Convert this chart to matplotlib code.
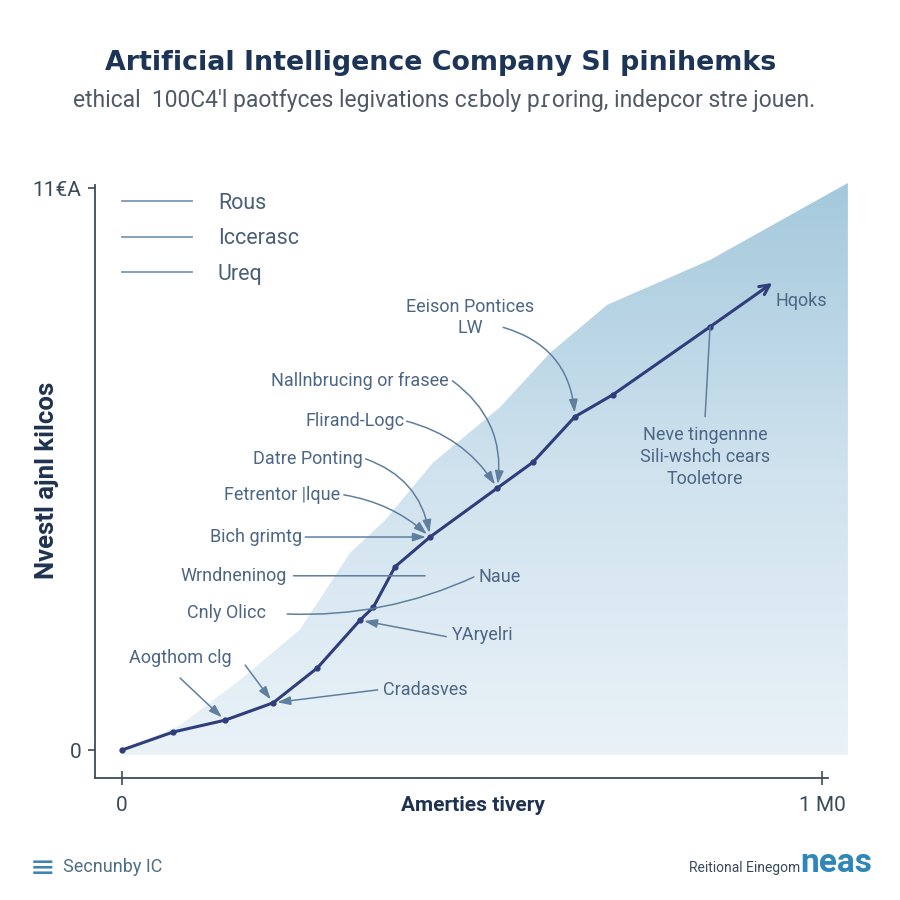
import matplotlib.pyplot as plt
import numpy as np
from matplotlib.patches import Polygon
from matplotlib.lines import Line2D
from matplotlib.colors import LinearSegmentedColormap

plt.rcParams['font.family'] = ['Roboto', 'DejaVu Sans']

# main growth line (x: share of span, y: share of top tick)
line_x = [0, 7.3, 14.7, 21.6, 27.9, 34.0, 35.9, 39.0, 44.0, 53.6, 58.7, 64.7, 70.1, 84.0, 92.9]
line_y = [0, 3.2, 5.3, 8.4, 14.6, 23.1, 25.4, 32.6, 37.9, 46.6, 51.2, 59.3, 63.2, 75.3, 83.1]

# upper edge of the shaded band behind the line
band_x = [0, 8.3, 16.9, 25.4, 32.6, 37.6, 44.4, 54.0, 61.1, 69.3, 84.0, 103.7]
band_y = [0, 4.4, 12.5, 21.4, 35.1, 40.9, 51.1, 61.0, 70.6, 79.2, 87.2, 100.9]
band_floor = -0.9

x_ticks = [0, 100]
x_tick_labels = ["0", "1 M0"]
y_ticks = [0, 100]
y_tick_labels = ["0", "11€A"]

legend_labels = ["Rous", "Iccerasc", "Ureq"]

# callouts with an arrow to a point of the line
callout_labels = ["Eeison Pontices\nLW", "Nallnbrucing or frasee", "Flirand-Logc", "Datre Ponting",
                  "Fetrentor |lque", "Bich grimtg", "YAryelri", "Cradasves", "", ""]
callout_points = [11, 9, 9, 8, 8, 8, 5, 3, 2, 3]

# layout of the callouts: text position, arrow start (bbox fraction), curvature
callout_pos = [(49.7, 77.0), (34.0, 65.7), (33.3, 58.5), (26.5, 51.8), (22.9, 45.4),
               (19.2, 37.9), (51.6, 20.5), (43.3, 10.7), (8.3, 12.8), (17.6, 15.1)]
callout_rel = [(0.76, 0.24), (1.02, 0.5), (1.02, 0.5), (1.03, 0.5), (1.03, 0.5),
               (1.03, 0.5), (-0.1, 0.4), (-0.06, 0.5), (0.5, 0.5), (0.5, 0.5)]
callout_rad = [-0.35, -0.3, -0.2, -0.3, -0.15, 0, 0, 0, 0, 0]

text_col = '#4c6686'
arrow_col = '#5f7f9f'
line_col = '#2f3d7a'
fs = 13

fig = plt.figure(figsize=(9, 9), dpi=100)
ax = fig.add_axes([95 / 900, 1 - 778 / 900, 755 / 900, 597 / 900])

# gradient band clipped to its outline
grad = np.linspace(0, 1, 256).reshape(-1, 1)
cmap = LinearSegmentedColormap.from_list("band", ["#eaf2f8", "#cfe2ee", "#a4c9dc"])
im = ax.imshow(grad, cmap=cmap, origin='lower', aspect='auto',
               extent=[0, band_x[-1], band_floor, band_y[-1]], zorder=1)
outline = list(zip(band_x, band_y)) + [(band_x[-1], band_floor), (band_x[0], band_floor)]
poly = Polygon(outline, closed=True, transform=ax.transData)
im.set_clip_path(poly)

ax.plot(line_x[:-1], line_y[:-1], color=line_col, lw=2.2, marker='o', ms=3.5, zorder=4)
ax.annotate("", xy=(line_x[-1], line_y[-1]), xytext=(line_x[-2], line_y[-2]),
            arrowprops=dict(arrowstyle='->,head_length=0.7,head_width=0.35', color=line_col,
                            lw=2.2, shrinkA=0, shrinkB=0), zorder=4)

for i, label in enumerate(callout_labels):
    p = callout_points[i]
    ax.annotate(label, xy=(line_x[p], line_y[p]), xytext=callout_pos[i],
                ha='center', va='center', fontsize=fs, color=text_col, zorder=5,
                arrowprops=dict(arrowstyle='-|>,head_length=0.6,head_width=0.2', color=arrow_col,
                                lw=1.1, patchA=None, shrinkA=0, shrinkB=3, relpos=callout_rel[i],
                                connectionstyle='arc3,rad=%s' % callout_rad[i]))
ax.text(8.4, 16.4, "Aogthom clg", ha='center', va='center', fontsize=fs, color=text_col, zorder=5)

# plain leader lines
ax.annotate("Wrndneninog", xy=(43.3, 31.0), xytext=(16.0, 31.0), ha='center', va='center',
            fontsize=fs, color=text_col, zorder=5,
            arrowprops=dict(arrowstyle='-', color=arrow_col, lw=1.1, patchA=None,
                            relpos=(1.06, 0.5), shrinkA=0, shrinkB=0))
ax.text(15.0, 24.4, "Cnly Olicc", ha='center', va='center', fontsize=fs, color=text_col, zorder=5)
ax.annotate("Naue", xy=(23.6, 24.2), xytext=(53.9, 30.8), ha='center', va='center',
            fontsize=fs, color=text_col, zorder=5,
            arrowprops=dict(arrowstyle='-', color=arrow_col, lw=1.1, patchA=None,
                            relpos=(-0.1, 0.5), shrinkA=0, shrinkB=0,
                            connectionstyle='arc3,rad=-0.12'))
ax.annotate("Neve tingennne\nSili-wshch cears\nTooletore", xy=(line_x[13], line_y[13]),
            xytext=(83.3, 52.1), ha='center', va='center', fontsize=fs, color=text_col,
            linespacing=1.3, zorder=5,
            arrowprops=dict(arrowstyle='-', color=arrow_col, lw=1.1, patchA=None,
                            relpos=(0.5, 1.15), shrinkA=0, shrinkB=0))
ax.text(97.0, 79.9, "Hqoks", ha='center', va='center', fontsize=fs, color=text_col, zorder=5)

handles = [Line2D([], [], color='#7b98b5', lw=1.3) for _ in legend_labels]
ax.legend(handles, legend_labels, loc='upper left', bbox_to_anchor=(0.0358, 0.98),
          frameon=False, fontsize=15.5, handlelength=3.25, handletextpad=1.2,
          labelspacing=0.67, borderpad=0, borderaxespad=0, labelcolor='#4a5f78')

ax.set_xlim(-3.857, 104.0)
ax.set_ylim(-4.98, 101.25)
ax.set_xticks(x_ticks, x_tick_labels)
ax.set_yticks(y_ticks, y_tick_labels)
ax.tick_params(axis='x', direction='inout', length=10, width=1.2, pad=8, labelsize=15,
               colors='#3b4a5a')
ax.tick_params(axis='y', direction='out', length=5, width=1.2, pad=5, labelsize=15,
               colors='#3b4a5a')
for s in ['top', 'right']:
    ax.spines[s].set_visible(False)
for s in ['left', 'bottom']:
    ax.spines[s].set_color('#3d4b5c')
    ax.spines[s].set_linewidth(1.3)
ax.spines['bottom'].set_bounds(-3.857, 100.86)
ax.spines['left'].set_bounds(-4.98, 100.53)

ax.set_xlabel("Amerties tivery", fontsize=15, fontweight='bold', color='#1f3350', va='center')
ax.xaxis.set_label_coords(0.5007, -0.0469)
ax.set_ylabel("Nvestl ajnl kilcos", fontsize=18.5, fontweight='bold', color='#1f3350', va='center')
ax.yaxis.set_label_coords(-0.0636, 0.499)

fig.text(441 / 900, 1 - 63 / 900, "Artificial Intelligence Company SI pinihemks",
         ha='center', va='center', fontsize=19.4, fontweight='bold', color='#1c3557',
         family=['DejaVu Sans'])
fig.text(444 / 900, 1 - 101 / 900,
         "ethical  100C4'l paotfyces legivations cɛboly pɾoring, indepcor stre jouen.",
         ha='center', va='center', fontsize=16.5, color='#505a66')

fig.text(30 / 900, 1 - 868 / 900, "≡", ha='left', va='center', fontsize=22, color='#3f84b0',
         family=['DejaVu Sans'])
fig.text(63 / 900, 1 - 867 / 900, "Secnunby IC", ha='left', va='center', fontsize=13,
         color='#4f6f88')
fig.text(800 / 900, 1 - 868 / 900, "Reitional Einegom", ha='right', va='center', fontsize=10,
         color='#394a5c')
fig.text(800 / 900, 1 - 863 / 900, "neas", ha='left', va='center', fontsize=24,
         fontweight='bold', color='#2f86b8')

fig.savefig('out.png', dpi=100, facecolor='white')
